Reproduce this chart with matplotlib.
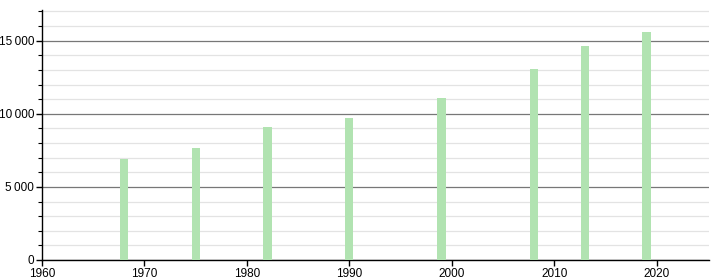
import matplotlib.pyplot as plt
from matplotlib.ticker import MultipleLocator, FuncFormatter

years = [1968, 1975, 1982, 1990, 1999, 2008, 2013, 2019]
population = [6940, 7670, 9090, 9680, 11100, 13060, 14610, 15600]

BAR_COLOR = "#b1e3b1"

plt.rcParams["font.family"] = ["Liberation Sans", "DejaVu Sans"]

fig = plt.figure(figsize=(7.2, 2.8), dpi=100)
ax = fig.add_axes([42 / 720, 20 / 280, 667 / 720, 250 / 280])

ax.bar(years, population, width=0.8, color=BAR_COLOR, zorder=3)

ax.set_xlim(1960, 2025.1)
ax.set_ylim(0, 17100)

ax.xaxis.set_major_locator(MultipleLocator(10))
ax.yaxis.set_major_locator(MultipleLocator(5000))
ax.yaxis.set_minor_locator(MultipleLocator(1000))
ax.yaxis.set_major_formatter(
    FuncFormatter(lambda v, _: f"{int(v):,}".replace(",", "\u2009"))
)

ax.grid(axis="y", which="major", color="#777777", linewidth=0.9, zorder=1)
ax.grid(axis="y", which="minor", color="#e3e3e3", linewidth=0.9, zorder=1)

for side in ("top", "right"):
    ax.spines[side].set_visible(False)
ax.spines["left"].set_linewidth(1.0)
ax.spines["bottom"].set_linewidth(1.0)

ax.tick_params(axis="both", which="major", labelsize=8.5, length=4, width=1,
               color="black", pad=1.5)
ax.tick_params(axis="y", which="minor", length=3, width=0.8)

fig.savefig("out.png", dpi=100)
